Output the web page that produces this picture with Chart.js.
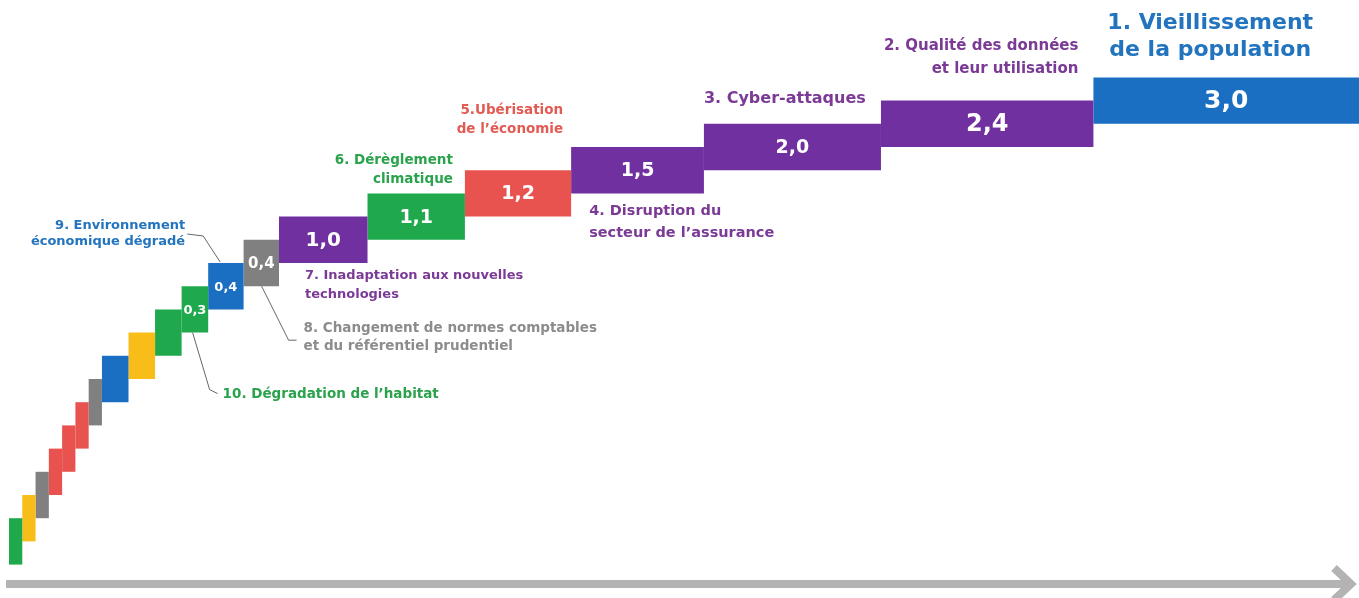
<!DOCTYPE html>
<html lang="fr">
<head>
<meta charset="utf-8">
<title>Risques émergents</title>
<script src="https://cdn.jsdelivr.net/npm/chart.js@4.4.1/dist/chart.umd.min.js"></script>
<style>
  html, body { margin: 0; padding: 0; background: #ffffff; }
  #cadre { position: relative; width: 1359px; height: 598px; }
</style>
</head>
<body>
<div id="cadre"><canvas id="escalier"></canvas></div>
<script>
// Données : du risque le plus élevé (en haut) au plus faible (en bas)
const categories = [
  "Vieillissement de la population", "Qualité des données", "Cyber-attaques",
  "Disruption du secteur", "Ubérisation", "Dérèglement climatique",
  "Inadaptation aux technologies", "Normes comptables", "Environnement économique",
  "Dégradation de l'habitat", "r11", "r12", "r13", "r14", "r15", "r16", "r17", "r18", "r19", "r20"
];
const valeurs = [3.0, 2.4, 2.0, 1.5, 1.2, 1.1, 1.0, 0.4, 0.4, 0.3,
  0.3, 0.3, 0.3, 0.15, 0.15, 0.15, 0.15, 0.15, 0.15, 0.15];
const valeursAffichees = ["3,0", "2,4", "2,0", "1,5", "1,2", "1,1", "1,0", "0,4", "0,4", "0,3"];
const libelles = [
  ["1. Vieillissement", "de la population"],
  ["2. Qualité des données", "et leur utilisation"],
  ["3. Cyber-attaques"],
  ["4. Disruption du", "secteur de l’assurance"],
  ["5.Ubérisation", "de l’économie"],
  ["6. Dérèglement", "climatique"],
  ["7. Inadaptation aux nouvelles", "technologies"],
  ["8. Changement de normes comptables", "et du référentiel prudentiel"],
  ["9. Environnement", "économique dégradé"],
  ["10. Dégradation de l’habitat"]
];

// Couleurs
const BLEU = "#1B6FC2", VIOLET = "#7030A0", ROUGE = "#E8534F", VERT = "#1FA84C",
      GRIS = "#808080", JAUNE = "#F8BD19";
const couleurs = [BLEU, VIOLET, VIOLET, VIOLET, ROUGE, VERT, VIOLET, GRIS, BLEU, VERT,
  VERT, JAUNE, BLEU, GRIS, ROUGE, ROUGE, ROUGE, GRIS, JAUNE, VERT];

// Bornes de chaque marche : elle commence là où finissent toutes celles du dessous
const total = valeurs.reduce((a, b) => a + b, 0);
const bornes = valeurs.map((v, i) => {
  const debut = valeurs.slice(i + 1).reduce((a, b) => a + b, 0);
  return [debut, debut + v];
});

const POLICE = '"DejaVu Sans", "Open Sans", sans-serif';

// Placement des libellés par rapport à leur marche (ax/ay : coin de la marche)
const placements = [
  { ax: 0.5, ay: 0, dx: -16, dy: [-54, -27], align: "center", taille: 22, couleur: "#2274BE" },
  { ax: 1, ay: 0, dx: -15, dy: [-54, -31], align: "right", taille: 15, couleur: "#7B3A96" },
  { ax: 0, ay: 0, dx: 0, dy: [-25], align: "left", taille: 16, couleur: "#7B3A96" },
  { ax: 0, ay: 1, dx: 18, dy: [18, 40], align: "left", taille: 14.5, couleur: "#7B3A96" },
  { ax: 1, ay: 0, dx: -8, dy: [-60, -41], align: "right", taille: 13.5, couleur: "#E35A52" },
  { ax: 1, ay: 0, dx: -12, dy: [-33, -14], align: "right", taille: 13.5, couleur: "#2BA24C" },
  { ax: 0, ay: 1, dx: 26, dy: [13, 32], align: "left", taille: 13, couleur: "#7B3A96" },
  { ax: 0, ay: 1, dx: 60, dy: [42, 60], align: "left", taille: 13.5, couleur: "#8C8C8C",
    trait: [[18, 0], [45, 54], [53, 54]] },
  { ax: 0, ay: 0, dx: -23, dy: [-37, -21], align: "right", taille: 13, couleur: "#2274BE",
    trait: [[-21, -29], [-5, -27], [12, -1]] },
  { ax: 0, ay: 1, dx: 41, dy: [62], align: "left", taille: 13.5, couleur: "#2BA24C",
    trait: [[11, 0], [28, 57], [36, 61]] }
];
const taillesValeurs = [25, 24, 19, 19, 19, 19, 20, 15, 13, 13];

const etiquettes = {
  id: "etiquettes",
  afterDatasetsDraw(chart) {
    const ctx = chart.ctx;
    const barres = chart.getDatasetMeta(0).data;
    ctx.save();

    // valeurs dans les marches
    valeursAffichees.forEach((txt, i) => {
      const b = barres[i].getProps(["x", "y", "base"], true);
      ctx.font = `bold ${taillesValeurs[i]}px ${POLICE}`;
      ctx.fillStyle = "#ffffff";
      ctx.textAlign = "center";
      ctx.textBaseline = "middle";
      ctx.fillText(txt, (b.x + b.base) / 2, b.y + 1);
    });

    // libellés et traits de rappel
    placements.forEach((p, i) => {
      const b = barres[i].getProps(["x", "y", "base", "height"], true);
      const gauche = Math.min(b.x, b.base), largeur = Math.abs(b.x - b.base);
      const haut = b.y - b.height / 2;
      const ox = gauche + p.ax * largeur, oy = haut + p.ay * b.height;
      if (p.trait) {
        ctx.strokeStyle = "#666666";
        ctx.lineWidth = 1;
        ctx.beginPath();
        p.trait.forEach(([tx, ty], k) => {
          const px = gauche + tx, py = oy + ty;
          if (k === 0) ctx.moveTo(px, py); else ctx.lineTo(px, py);
        });
        ctx.stroke();
      }
      ctx.font = `bold ${p.taille}px ${POLICE}`;
      ctx.fillStyle = p.couleur;
      ctx.textAlign = p.align;
      ctx.textBaseline = "middle";
      libelles[i].forEach((ligne, k) => ctx.fillText(ligne, ox + p.dx, oy + p.dy[k]));
    });

    // flèche du bas
    const zone = chart.chartArea;
    const yF = zone.bottom + 31;
    ctx.strokeStyle = "#B3B3B3";
    ctx.lineWidth = 8;
    ctx.beginPath();
    ctx.moveTo(zone.left - 3, yF);
    ctx.lineTo(zone.right - 9, yF);
    ctx.stroke();
    ctx.beginPath();
    ctx.moveTo(zone.right - 25, yF - 16);
    ctx.lineTo(zone.right - 8, yF);
    ctx.lineTo(zone.right - 25, yF + 16);
    ctx.stroke();
    ctx.restore();
  }
};

new Chart(document.getElementById("escalier"), {
  type: "bar",
  data: {
    labels: categories,
    datasets: [{
      data: bornes,
      backgroundColor: couleurs,
      borderWidth: 0,
      barPercentage: 1,
      categoryPercentage: 2,
      clip: false
    }]
  },
  options: {
    indexAxis: "y",
    responsive: true,
    maintainAspectRatio: false,
    animation: false,
    devicePixelRatio: 1,
    layout: { padding: { left: 9, right: 0, top: 89, bottom: 45 } },
    scales: {
      x: { type: "linear", min: 0, max: total, display: false },
      y: { display: false }
    },
    plugins: { legend: { display: false }, tooltip: { enabled: false } }
  },
  plugins: [etiquettes]
});
</script>
</body>
</html>
